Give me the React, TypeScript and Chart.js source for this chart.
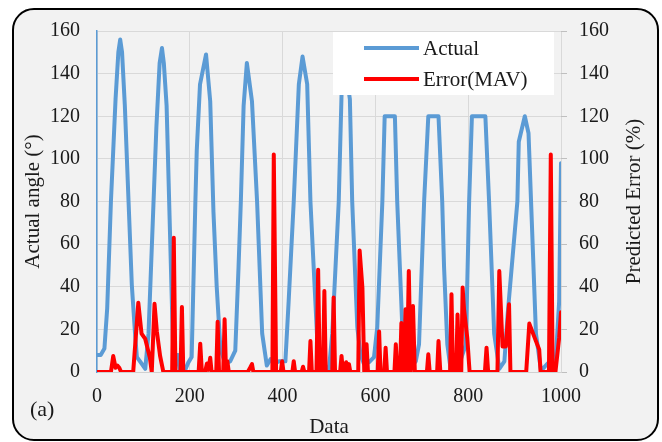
import React, { useEffect, useRef } from "react";
import { Chart, registerables } from "chart.js";

Chart.register(...registerables);

// ---------- data ----------
const seriesNames = ["Actual", "Error(MAV)"];
const seriesColors = ["#5b9bd5", "#ff0000"];

const actualX = [
  0, 8, 16, 22, 30, 40, 46, 50, 54, 60, 68, 75, 82, 86, 96, 104, 111, 121, 128, 135, 140, 144, 150, 156, 165, 174, 178,
  190, 197, 204, 212, 215, 222, 235, 244, 251, 258, 266, 276, 287, 298, 305, 310, 316, 323, 334, 345, 356, 366, 374, 382,
  392, 406, 413, 424, 435, 443, 453, 460, 474, 485, 496, 500, 507, 521, 527, 536, 545, 550, 561, 568, 575, 586, 597, 604,
  615, 620, 642, 647, 658, 665, 676, 687, 694, 705, 714, 736, 744, 748, 755, 762, 778, 795, 802, 808, 837, 845, 856, 867,
  878, 885, 906, 909, 922, 930, 937, 946, 957, 971, 989, 996, 1000,
];
const actualY = [
  8, 8, 11, 30, 80, 128, 150, 156, 150, 125, 80, 41, 18, 7, 4, 1.5, 18, 75, 115, 145, 152, 145, 125, 76, 3, 8, 1,
  1, 4.5, 7, 80, 104, 135, 149, 127, 75, 40, 11, 4, 5, 10, 49, 80, 125, 145, 127, 80, 18, 3, 6, 4,
  5, 5, 33, 80, 135, 148, 135, 80, 18, 4, 2, 1.5, 18, 80, 130, 142, 128, 80, 21, 8, 4, 4.5, 7, 21,
  80, 120, 120, 80, 21, 4, 2, 5, 13, 80, 120, 120, 80, 49, 13, 1.5, 2, 13, 80, 120, 120, 80, 18, 1.5,
  5, 27, 80, 108, 120, 112, 71, 18, 0.5, 4, 7, 33, 98,
];

const errorX = [
  0, 30, 35, 40, 44, 48, 52, 78, 89, 96, 104, 114, 118, 124, 129, 136, 143, 162, 165.5, 169, 180, 183, 186,
  219, 222.5, 226, 233, 237, 240, 244, 247, 257, 260, 263, 272, 275, 278, 281, 284, 312, 325, 330, 334, 337,
  378, 381, 386, 396, 399, 402, 421, 424, 427, 441, 444, 447, 457, 460, 463, 473, 476.6, 480, 487, 490, 493,
  507, 510, 513, 524, 527, 530, 533, 537, 540, 543, 546, 563, 566, 572, 576, 581, 584,
  605, 608, 611, 619, 622, 625, 641, 644, 647, 653, 656, 660, 662, 665, 668, 672, 676, 681, 685,
  711, 714, 717, 733, 736, 740, 761, 764, 767, 774, 777, 781, 785, 788, 791, 798, 803, 836, 839.5, 843,
  863, 867, 874, 881, 888, 891, 925, 931.7, 946, 953, 956, 974, 978, 982, 984, 988, 996, 1000,
];
const errorY = [
  0, 0, 7.5, 2, 3, 2, 0, 0, 32.5, 18, 15.5, 6.7, 0, 32, 19, 7.5, 0, 0, 63, 0, 0, 30.5, 0,
  0, 13.3, 0, 0, 4, 1, 6.7, 0, 0, 23.6, 0, 0, 24.7, 0, 5, 0, 0, 0, 2, 3.7, 0,
  0, 102, 0, 0, 5, 0, 0, 5, 0, 0, 2.5, 0, 0, 14.5, 0, 0, 48, 0, 0, 38, 0,
  0, 35, 0, 0, 7.5, 0, 0, 4.6, 0, 3.7, 0, 0, 57, 39.5, 0, 13, 0,
  0, 19, 0, 0, 11.4, 0, 0, 13, 0, 0, 23, 0, 0, 29.4, 0, 47.4, 0, 31, 0,
  0, 8.3, 0, 0, 14.5, 0, 0, 36.5, 0, 0, 27, 0, 0, 39.6, 29.4, 16, 0, 0, 11.4, 0,
  0, 47.4, 12, 12, 31.8, 0, 0, 22.7, 14.5, 10.6, 0, 0, 102, 0, 4, 0, 16, 28,
];

const xTickStep = 200;
const yTickStep = 20;
const axisTitles = { x: "Data", y: "Actual angle (°)", y2: "Predicted Error (%)" };

// ---------- styling ----------
const W = 662;
const H = 442;
const FONT = '"Liberation Serif", "Times New Roman", serif';
const TEXT = "#1a1a1a";
const GRID = "#d9d9d9";

const legendPlugin = {
  id: "boxLegend",
  afterDatasetsDraw(chart: any) {
    const ctx = chart.ctx;
    ctx.save();
    ctx.fillStyle = "#ffffff";
    ctx.fillRect(333, 32, 221, 63);
    const rows = [48, 79];
    chart.data.datasets.forEach((ds: any, i: number) => {
      ctx.strokeStyle = ds.borderColor;
      ctx.lineWidth = 4;
      ctx.lineCap = "butt";
      ctx.beginPath();
      ctx.moveTo(364, rows[i]);
      ctx.lineTo(419, rows[i]);
      ctx.stroke();
      ctx.fillStyle = TEXT;
      ctx.font = `21px ${FONT}`;
      ctx.textBaseline = "middle";
      ctx.textAlign = "left";
      ctx.fillText(ds.label, 423, rows[i] + 1);
    });
    ctx.restore();
  },
};

// right axis title, read bottom-to-top like the left one
const rightTitlePlugin = {
  id: "rightTitle",
  afterDraw(chart: any) {
    const ctx = chart.ctx;
    const area = chart.chartArea;
    ctx.save();
    ctx.translate(634, (area.top + area.bottom) / 2);
    ctx.rotate(-Math.PI / 2);
    ctx.fillStyle = TEXT;
    ctx.font = `21px ${FONT}`;
    ctx.textAlign = "center";
    ctx.textBaseline = "middle";
    ctx.fillText(axisTitles.y2, 0, 0);
    ctx.restore();
  },
};

export default function App() {
  const ref = useRef<HTMLCanvasElement | null>(null);

  useEffect(() => {
    if (!ref.current) return;
    const tickFont = { family: FONT, size: 20 };
    const titleFont = { family: FONT, size: 21 };
    const plain = (v: any) => String(v);
    const chart = new Chart(ref.current, {
      type: "line",
      data: {
        datasets: [
          {
            label: seriesNames[0],
            data: actualX.map((x, i) => ({ x, y: actualY[i] })),
            borderColor: seriesColors[0],
            backgroundColor: seriesColors[0],
            borderWidth: 4,
            pointRadius: 0,
            tension: 0,
            borderJoinStyle: "round",
            borderCapStyle: "round",
            yAxisID: "y",
            order: 2,
          },
          {
            label: seriesNames[1],
            data: errorX.map((x, i) => ({ x, y: errorY[i] })),
            borderColor: seriesColors[1],
            backgroundColor: seriesColors[1],
            borderWidth: 4,
            pointRadius: 0,
            tension: 0,
            borderJoinStyle: "round",
            borderCapStyle: "round",
            yAxisID: "y2",
            order: 1,
          },
        ],
      },
      options: {
        responsive: false,
        animation: false,
        devicePixelRatio: 1,
        layout: { padding: { top: 31, left: 0, right: 0, bottom: 0 } },
        plugins: { legend: { display: false }, tooltip: { enabled: false } },
        scales: {
          x: {
            type: "linear",
            min: 0,
            max: 1000,
            ticks: { stepSize: xTickStep, font: tickFont, color: TEXT, padding: 13, maxRotation: 0, callback: plain },
            grid: { color: GRID, lineWidth: 1, drawTicks: false },
            border: { display: true, color: "#d0d0d0", width: 1 },
            title: { display: true, text: axisTitles.x, font: titleFont, color: TEXT, padding: { top: 0, bottom: 2 } },
            afterFit(s: any) {
              s.height = H - 372;
            },
          },
          y: {
            position: "left",
            min: 0,
            max: 160,
            ticks: { stepSize: yTickStep, font: tickFont, color: TEXT, padding: 17, callback: plain },
            grid: { color: GRID, lineWidth: 1, drawTicks: false },
            border: { display: true, color: seriesColors[0], width: 1.5 },
            title: { display: true, text: axisTitles.y, font: titleFont, color: TEXT, padding: { top: 20.6, bottom: 0 } },
            afterFit(s: any) {
              s.width = 97;
            },
          },
          y2: {
            position: "right",
            min: 0,
            max: 160,
            ticks: { stepSize: yTickStep, font: tickFont, color: TEXT, padding: 12, callback: plain },
            grid: { drawOnChartArea: false, drawTicks: true, tickLength: 6, color: "#bfbfbf" },
            border: { display: false },
            title: { display: false },
            afterFit(s: any) {
              s.width = W - 561;
            },
          },
        },
      },
      plugins: [legendPlugin, rightTitlePlugin],
    } as any);
    return () => chart.destroy();
  }, []);

  return (
    <div style={{ position: "fixed", left: 0, top: 0, width: W, height: H, background: "#ffffff", overflow: "hidden" }}>
      <div
        style={{
          position: "absolute",
          left: 12,
          top: 8,
          width: 647,
          height: 433,
          boxSizing: "border-box",
          border: "2px solid #000",
          borderRadius: 22,
          background: "#f2f2f2",
        }}
      />
      <canvas ref={ref} width={W} height={H} style={{ position: "absolute", left: 0, top: 0, width: W, height: H }} />
      <div
        style={{
          position: "absolute",
          left: 30,
          top: 397,
          fontFamily: FONT,
          fontSize: 22,
          lineHeight: "24px",
          color: TEXT,
        }}
      >
        (a)
      </div>
    </div>
  );
}
